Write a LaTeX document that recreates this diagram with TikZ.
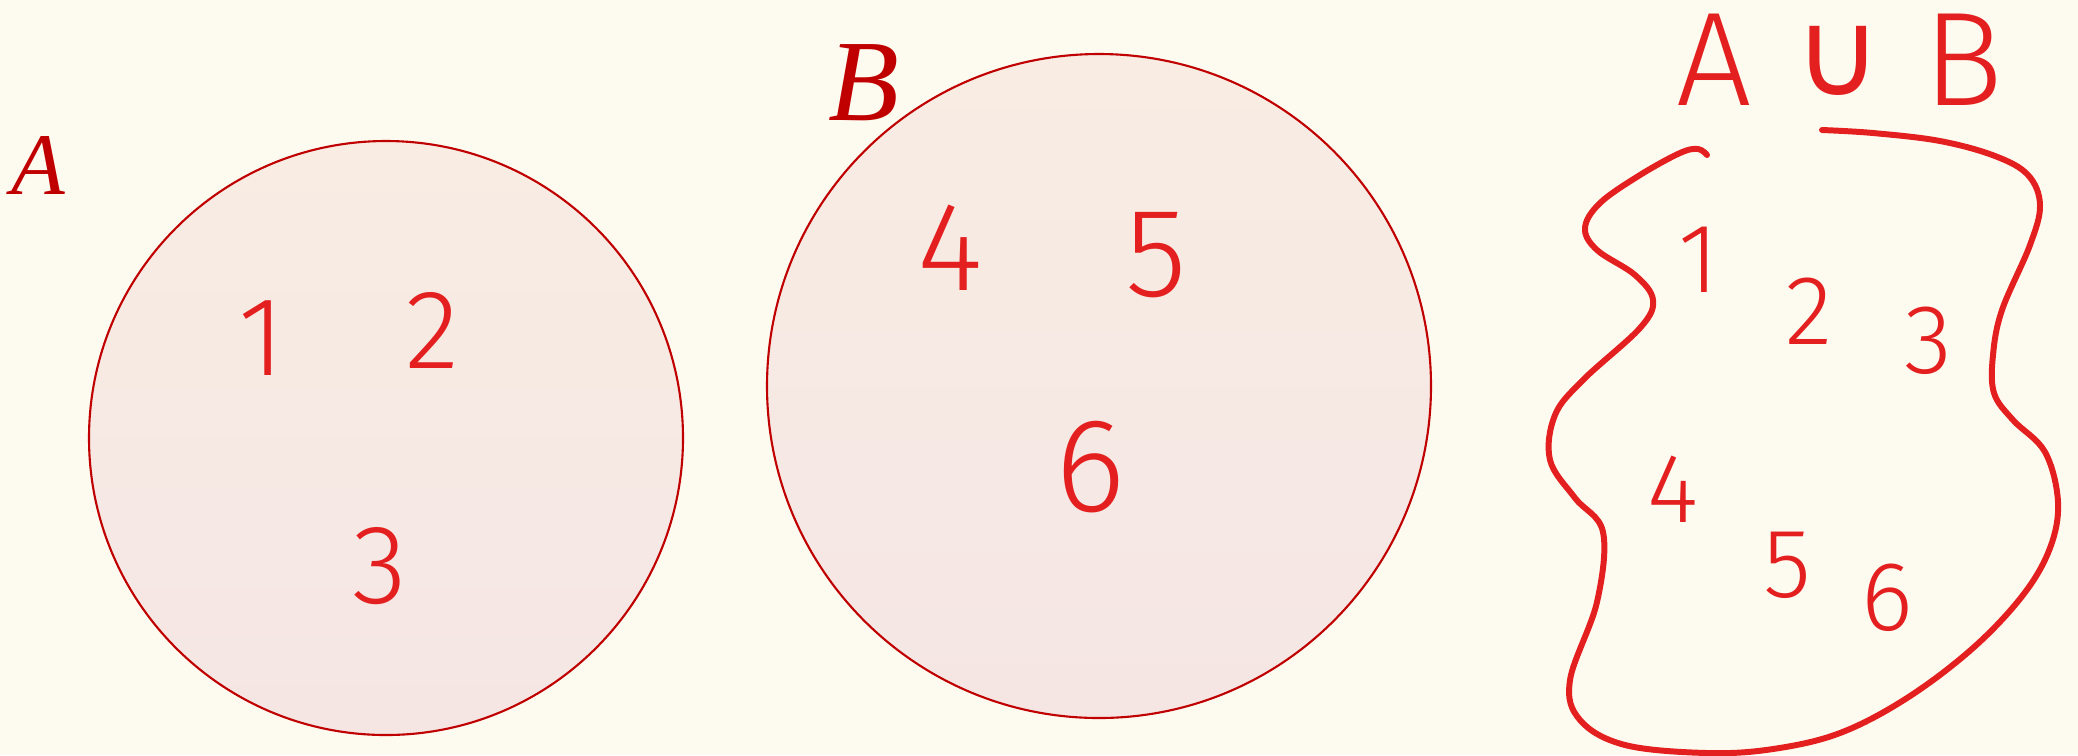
\documentclass[tikz,border=0pt]{standalone}
\usepackage{fontspec}
\newfontfamily\handfont{Fira Sans}[UprightFont=* Light]
\newfontfamily\namefont{Liberation Serif}
\newfontfamily\cupfont{DejaVu Sans}
\definecolor{paper}{HTML}{FDFBF0}
\definecolor{rimred}{HTML}{C00000}
\definecolor{inkred}{HTML}{E41F1F}
\definecolor{filltop}{HTML}{F8ECE3}
\definecolor{fillbot}{HTML}{F5E6E4}
\tikzset{
  setdisc/.style={circle, draw=rimred, line width=0.6pt,
                  top color=filltop, bottom color=fillbot, inner sep=0pt},
  setname/.style={text=rimred, font=\namefont\itshape\fontsize{#1}{#1}\selectfont},
  digit/.style={text=inkred, font=\handfont\fontsize{#1}{#1}\selectfont},
}
\begin{document}
\begin{tikzpicture}[x=1cm, y=1cm, line cap=round, line join=round]
  % page: 2078 x 755 px, 1 px = 0.01 cm
  \useasboundingbox (0,0) rectangle (20.78,-7.55);
  \fill[paper] (0,0) rectangle (20.78,-7.55);

  % the two sets
  \node[setdisc, minimum size=5.94cm] (setA) at (3.86,-4.38) {};
  \node[setdisc, minimum size=6.64cm] (setB) at (10.99,-3.86) {};

  % set names
  \node[setname=25] (nameA) at (0.38,-1.65) {A};
  \node[setname=33] (nameB) at (8.64,-0.83) {B};

  % elements of A
  \node[digit=32] (a1) at (2.62,-3.38) {1};
  \node[digit=32] (a2) at (4.32,-3.30) {2};
  \node[digit=32] (a3) at (3.80,-5.66) {3};

  % elements of B
  \node[digit=36] (b4) at (9.50,-2.48) {4};
  \node[digit=36] (b5) at (11.56,-2.55) {5};
  \node[digit=38] (b6) at (10.90,-4.67) {6};

  % union: title and its elements
  \node[digit=38] (title) at (18.40,-0.60)
    {A\hspace{0.42cm}\raisebox{0.1cm}{\cupfont\fontsize{34}{34}\selectfont ∪}\hspace{0.42cm}B};
  \node[digit=28] (u1) at (16.99,-2.60) {1};
  \node[digit=28] (u2) at (18.09,-3.11) {2};
  \node[digit=28] (u3) at (19.28,-3.41) {3};
  \node[digit=28] (u4) at (16.73,-4.89) {4};
  \node[digit=28] (u5) at (17.87,-5.65) {5};
  \node[digit=28] (u6) at (18.87,-5.98) {6};

  % hand-drawn outline of the union (open at the top)
  \draw[inkred, line width=1.7pt] plot[smooth, tension=0.6] coordinates {
    (17.07,-1.55) (16.98,-1.49) (16.80,-1.53) (16.40,-1.75) (16.00,-2.03)
    (15.85,-2.28) (15.97,-2.50) (16.35,-2.75) (16.53,-3.00)
    (16.40,-3.28) (15.83,-3.80) (15.55,-4.15)
    (15.50,-4.60) (15.75,-4.98) (16.03,-5.32)
    (15.97,-6.02) (15.70,-6.80) (15.80,-7.20)
    (16.25,-7.45) (17.07,-7.53) (17.73,-7.49) (18.40,-7.33) (19.07,-6.98)
    (19.73,-6.48) (20.23,-5.95) (20.50,-5.48) (20.58,-5.02)
    (20.45,-4.52) (20.13,-4.20) (19.94,-3.93) (19.93,-3.55)
    (20.02,-3.10) (20.30,-2.45) (20.40,-2.05)
    (20.28,-1.75) (19.95,-1.56) (19.40,-1.41) (18.73,-1.33) (18.22,-1.30)};
\end{tikzpicture}
\end{document}
